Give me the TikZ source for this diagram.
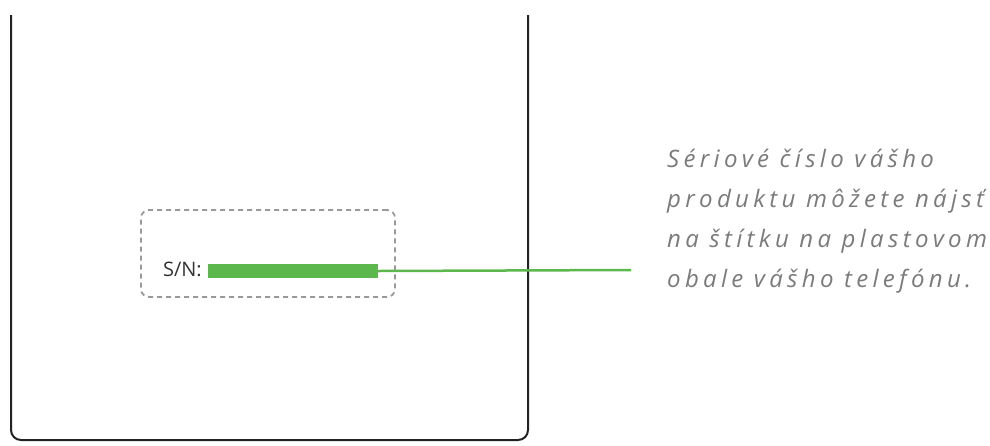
\documentclass[tikz,border=0pt]{standalone}
\usepackage{fontspec}
\setmainfont{Open Sans}
\newfontfamily\notefont[LetterSpace=18]{Open Sans}
\usepackage{xcolor}
\usetikzlibrary{positioning}
\definecolor{labelgreen}{HTML}{5CB84C}
\definecolor{notegray}{HTML}{7B7B7B}
\definecolor{dashgray}{HTML}{999999}
\definecolor{phonedark}{HTML}{222222}

\begin{document}
\begin{tikzpicture}[x=1pt, y=-1pt]
  % Styles
  \tikzstyle{phone}=[draw=phonedark, line width=2pt, rounded corners=10pt]
  \tikzstyle{sticker}=[draw=dashgray, line width=1.8pt, dash pattern=on 5pt off 4pt, rounded corners=8pt, minimum width=254pt, minimum height=87pt]
  \tikzstyle{sntext}=[font=\fontsize{20}{22}\selectfont, text=black!80, inner sep=0pt]
  \tikzstyle{snbar}=[fill=labelgreen, minimum width=170pt, minimum height=14pt, inner sep=0pt]
  \tikzstyle{note}=[font=\notefont\itshape\fontsize{24}{40}\selectfont, text=notegray, align=left, inner sep=0pt]

  \useasboundingbox (0,0) rectangle (990,445);

  % Phone body (open at top)
  \draw[phone] (11,15) -- (11,440) -- (528,440) -- (528,15);

  % Label on the back
  \node[sticker] (sticker) at (268,253.5) {};
  \node[snbar] (bar) at (293,271) {};
  \node[sntext, anchor=base east] (sn) at (202,276) {S/N:};

  % Pointer to the note
  \coordinate (tip) at (631,270);
  \draw[labelgreen, line width=2.5pt] (bar.east) -- (tip);

  \node[note, anchor=north west] (note) at (667,149) {S\'eriov\'e \v c\'islo v\'a\v sho\\produktu m\^o\v zete n\'ajs\v t\\na \v st\'itku na plastovom\\obale v\'a\v sho telef\'onu.};
\end{tikzpicture}
\end{document}
